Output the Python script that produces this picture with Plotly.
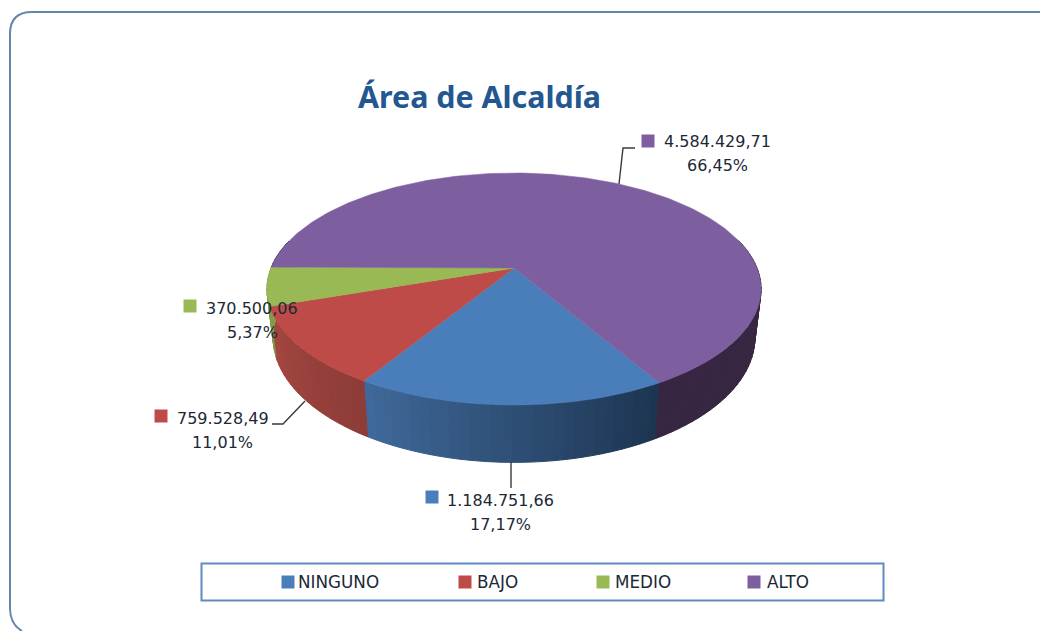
import math
import plotly.graph_objects as go

# ---- data ----
categories = ["NINGUNO", "BAJO", "MEDIO", "ALTO"]
values = [1184751.66, 759528.49, 370500.06, 4584429.71]
title_text = "Área de Alcaldía"

# ---- style ----
top_colors = ["#4a7ebb", "#be4b48", "#98b954", "#7d5fa0"]
side_start = [(28, 52, 80), (140, 60, 56), (125, 150, 70), (52, 36, 62)]
side_end = [(64, 106, 155), (166, 70, 64), (135, 160, 76), (58, 40, 68)]
text_color = "#1c2836"
title_color = "#24578f"
title_font = "Noto Sans"
label_font = "DejaVu Sans"

# ---- projection of the pie (perspective disc, pixel canvas) ----
CX, CY = 514, 268
RX, RY = 243, 112.2
P = 0.181
DEPTH = 47
LOWER_SCALE = 0.975  # the lower rim is further from the viewer
START = 149.7  # degrees clockwise from the back of the pie
STEP = 2.0


def project(angle_deg, lower=False):
    t = math.radians(angle_deg)
    u, v = math.sin(t), math.cos(t)
    w = 1 + P * v
    x = RX * u / w
    y = CY - RY * v / w
    if lower:
        return CX + x * LOWER_SCALE, y + DEPTH / w
    return CX + x, y


def mix(a, b, f):
    return "rgb(%d,%d,%d)" % tuple(round(a[i] + (b[i] - a[i]) * f) for i in range(3))


def fmt(n):
    s = f"{n:,.2f}"
    return s.replace(",", "#").replace(".", ",").replace("#", ".")


total = sum(values)
shares = [v / total for v in values]
edges = [START]
for s in shares:
    edges.append(edges[-1] + s * 360)

fig = go.Figure()


def poly(xs, ys, color, line=1.0):
    fig.add_trace(go.Scatter(
        x=xs, y=ys, mode="lines", fill="toself", fillcolor=color,
        line=dict(color=color, width=line), showlegend=False, hoverinfo="skip"))


# side walls: only strips on the front of the pie, top faces cover the rest
for i, _ in enumerate(categories):
    a0, a1 = edges[i], edges[i + 1]
    n = max(2, int((a1 - a0) / STEP))
    for k in range(n):
        s0 = a0 + (a1 - a0) * k / n
        s1 = a0 + (a1 - a0) * (k + 1) / n
        if math.cos(math.radians((s0 + s1) / 2)) > 0.25:
            continue
        if i == 3:
            color = mix(side_start[3], side_end[3], 0.5)
        else:
            color = mix(side_start[i], side_end[i], (k + 0.5) / n)
        p0, p1 = project(s0), project(s1)
        q1, q0 = project(s1, True), project(s0, True)
        poly([p0[0], p1[0], q1[0], q0[0], p0[0]],
             [p0[1], p1[1], q1[1], q0[1], p0[1]], color)

for i, c in enumerate(categories):
    a0, a1 = edges[i], edges[i + 1]
    n = max(8, int(a1 - a0))
    pts = [project(a0 + (a1 - a0) * k / n) for k in range(n + 1)]
    xs = [CX] + [p[0] for p in pts] + [CX]
    ys = [CY] + [p[1] for p in pts] + [CY]
    poly(xs, ys, top_colors[i], line=0.5)

# leader lines
leaders = [
    ([511, 511], [462, 488]),
    ([305, 283, 272], [401, 424, 424]),
    ([619, 623, 635], [184, 148, 148]),
]
for lx, ly in leaders:
    fig.add_trace(go.Scatter(x=lx, y=ly, mode="lines", line=dict(color="#3a3a3a", width=1.4),
                             showlegend=False, hoverinfo="skip"))

# data label keys and text
key_pos = [(432, 497), (161, 416), (190, 306), (648, 141)]
label_pos = [(500.5, 500), (222.5, 418), (252, 308), (717.5, 141)]
fig.add_trace(go.Scatter(
    x=[p[0] for p in key_pos], y=[p[1] for p in key_pos], mode="markers",
    marker=dict(symbol="square", size=13, color=top_colors, line=dict(width=0)),
    showlegend=False, hoverinfo="skip"))

annotations = []
for i, (x, y) in enumerate(label_pos):
    for text, dy in ((fmt(values[i]), 0), (f"{shares[i] * 100:.2f}%".replace(".", ","), 24)):
        annotations.append(dict(x=x, y=y + dy, text=text, showarrow=False, xanchor="center",
                                yanchor="middle", font=dict(family=label_font, size=16, color=text_color)))

# title
annotations.append(dict(x=479, y=96, text=f"<b>{title_text}</b>", showarrow=False, xanchor="center",
                        yanchor="middle", font=dict(family=title_font, size=30.4, color=title_color)))

# legend box content
legend_keys = [288, 465, 603, 754]
legend_text = [296, 475, 613, 765]
fig.add_trace(go.Scatter(
    x=legend_keys, y=[582] * 4, mode="markers",
    marker=dict(symbol="square", size=13, color=top_colors, line=dict(width=0)),
    showlegend=False, hoverinfo="skip"))
for x, c in zip(legend_text, categories):
    annotations.append(dict(x=x, y=582, text=c, showarrow=False, xanchor="left", yanchor="middle",
                            font=dict(family=label_font, size=16.8, color=text_color)))

shapes = [
    dict(type="path", xref="x", yref="y",
         path="M 1048,12 L 32,12 Q 10,12 10,34 L 10,608 Q 10,624 22,631",
         line=dict(color="#6784ae", width=2)),
    dict(type="rect", xref="x", yref="y", x0=201.5, y0=563.5, x1=883.5, y1=600.5,
         line=dict(color="#5f8ac4", width=2), fillcolor="rgba(0,0,0,0)"),
]

# the page keeps an 8 px body margin, so the canvas starts at pixel (8, 8)
fig.update_layout(
    width=1040, height=623, autosize=False,
    margin=dict(l=0, r=0, t=0, b=0),
    paper_bgcolor="white", plot_bgcolor="white",
    xaxis=dict(range=[8, 1048], visible=False, fixedrange=True),
    yaxis=dict(range=[631, 8], visible=False, fixedrange=True),
    annotations=annotations, shapes=shapes, showlegend=False,
)
fig.write_html("out.html", config=dict(displayModeBar=False))
